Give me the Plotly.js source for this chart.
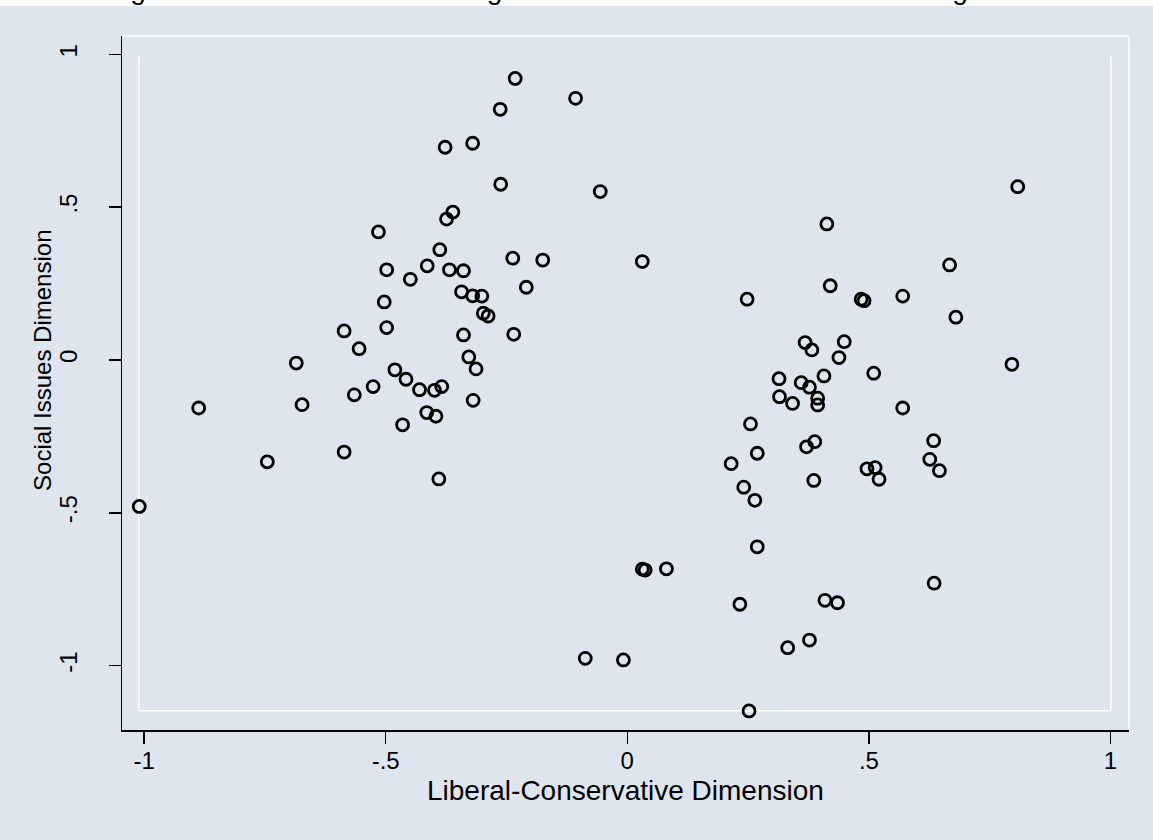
<!DOCTYPE html>
<html><head><meta charset="utf-8">
<script src="https://cdn.plot.ly/plotly-3.0.1.min.js"></script>
<style>
html,body{margin:0;padding:0;background:#fff;}
#cap{position:absolute;left:0;top:0;width:1153px;height:6px;overflow:hidden;background:#fff;}
#cap span{position:absolute;left:107px;top:-24px;font-family:"Liberation Sans",Arial,sans-serif;font-size:28px;line-height:28px;white-space:pre;color:#000;}
#plot{position:absolute;left:0;top:6px;width:1153px;height:834px;}
</style></head>
<body>
<div id="cap"><span>Figure 3.5  Dimensional Scaling of the U.S. Senate in the 107th Congress</span></div>
<div id="plot"></div>
<script>
// Liberal-Conservative (x) and Social Issues (y) coordinates of senators
const xLibCon = [
 -0.232,-0.263,-0.107,-0.377,-0.320,-0.262,-0.361,-0.374,-0.515,-0.388,
 -0.056,-0.237,-0.175,-0.498,-0.414,-0.449,-0.368,-0.339,-0.209,-0.343,
 -0.320,-0.301,-0.298,-0.288,-0.503,-0.586,-0.498,-0.555,-0.339,-0.235,
 -0.328,-0.313,-0.685,-0.481,-0.458,-0.526,-0.430,-0.399,-0.384,-0.565,
 -0.673,-0.887,-0.319,-0.415,-0.396,-0.465,-0.586,-0.745,-0.390,-1.010,
 0.031,
 0.808,0.413,0.667,0.420,0.248,0.484,0.490,0.570,0.680,0.368,
 0.382,0.449,0.438,0.796,0.314,0.360,0.377,0.407,0.510,0.315,
 0.342,0.394,0.394,0.570,0.255,0.388,0.371,0.634,0.269,0.215,
 0.626,0.646,0.496,0.513,0.521,0.386,0.241,0.264,0.269,0.031,
 0.037,0.081,0.635,0.233,0.409,0.435,0.377,0.332,-0.087,-0.008,
 0.252
];
const ySocial = [
 0.921,0.820,0.856,0.696,0.709,0.575,0.484,0.461,0.419,0.361,
 0.551,0.333,0.327,0.295,0.308,0.264,0.295,0.292,0.238,0.223,
 0.210,0.209,0.153,0.144,0.190,0.095,0.106,0.037,0.082,0.084,
 0.010,-0.029,-0.010,-0.032,-0.063,-0.087,-0.097,-0.099,-0.087,-0.114,
 -0.146,-0.157,-0.132,-0.172,-0.184,-0.212,-0.301,-0.333,-0.389,-0.479,
 0.322,
 0.567,0.445,0.311,0.243,0.199,0.199,0.194,0.209,0.140,0.057,
 0.033,0.060,0.008,-0.014,-0.061,-0.074,-0.089,-0.052,-0.043,-0.120,
 -0.142,-0.125,-0.147,-0.157,-0.209,-0.267,-0.284,-0.264,-0.305,-0.339,
 -0.325,-0.362,-0.356,-0.352,-0.390,-0.394,-0.416,-0.459,-0.611,-0.684,
 -0.687,-0.683,-0.730,-0.799,-0.786,-0.794,-0.916,-0.941,-0.976,-0.981,
 -1.148
];
const xTickVals = [-1,-0.5,0,0.5,1];
const xTickText = ['-1','-.5','0','.5','1'];
const yTickVals = [-1,-0.5,0,0.5,1];
const yTickText = ['-1','-.5','0','.5','1'];
const xTitle = 'Liberal-Conservative Dimension';
const yTitle = 'Social Issues Dimension';

const bg = '#dfe5ef';
const trace = {
  type:'scatter', mode:'markers', x:xLibCon, y:ySocial,
  marker:{symbol:'circle-open', size:12, color:'#000', line:{width:2.8, color:'#000'}},
  hoverinfo:'x+y'
};
const xmin = -1.0457, xmax = 1.0383, ymin = -1.2103, ymax = 1.0599;
const axisCommon = {
  tickmode:'array', showgrid:false, zeroline:false, showline:true,
  linecolor:'#000', linewidth:1.5, ticks:'outside', ticklen:12, tickwidth:1.5,
  tickcolor:'#000', tickfont:{size:24}, automargin:false, fixedrange:true
};
const layout = {
  width:1153, height:834,
  paper_bgcolor:bg, plot_bgcolor:bg,
  margin:{l:122, r:24, t:30, b:110},
  showlegend:false,
  font:{family:'"Liberation Sans", Arial, sans-serif', color:'#000'},
  xaxis:Object.assign({}, axisCommon, {range:[xmin,xmax], tickvals:xTickVals, ticktext:xTickText, ticklabelstandoff:-3}),
  yaxis:Object.assign({}, axisCommon, {range:[ymin,ymax], tickvals:yTickVals, ticktext:yTickText, tickangle:-90, ticklabelstandoff:22}),
  annotations:[
    {text:xTitle, xref:'paper', yref:'paper', x:0.5, y:-0.0865, xanchor:'center', yanchor:'middle', showarrow:false, font:{size:28}},
    {text:yTitle, xref:'paper', yref:'y', x:-0.0795, y:0, xanchor:'center', yanchor:'middle', textangle:-90, showarrow:false, font:{size:24}}
  ],
  shapes:[
    {type:'line', xref:'paper', yref:'paper', x0:0, x1:1, y0:1, y1:1, line:{color:'#fff', width:1.5}, layer:'below'},
    {type:'line', xref:'paper', yref:'paper', x0:1, x1:1, y0:0, y1:1, line:{color:'#fff', width:1.5}, layer:'below'},
    {type:'line', xref:'x', yref:'y', x0:-1.011, x1:-1.011, y0:-1.147, y1:0.994, line:{color:'#fff', width:1.5}, layer:'below'},
    {type:'line', xref:'x', yref:'y', x0:-1.011, x1:1.0006, y0:-1.147, y1:-1.147, line:{color:'#fff', width:1.5}, layer:'below'},
    {type:'line', xref:'x', yref:'y', x0:1.0006, x1:1.0006, y0:-1.147, y1:0.994, line:{color:'#fff', width:1.5}, layer:'below'}
  ]
};
Plotly.newPlot('plot', [trace], layout, {displayModeBar:false, staticPlot:true});
</script>
</body></html>
